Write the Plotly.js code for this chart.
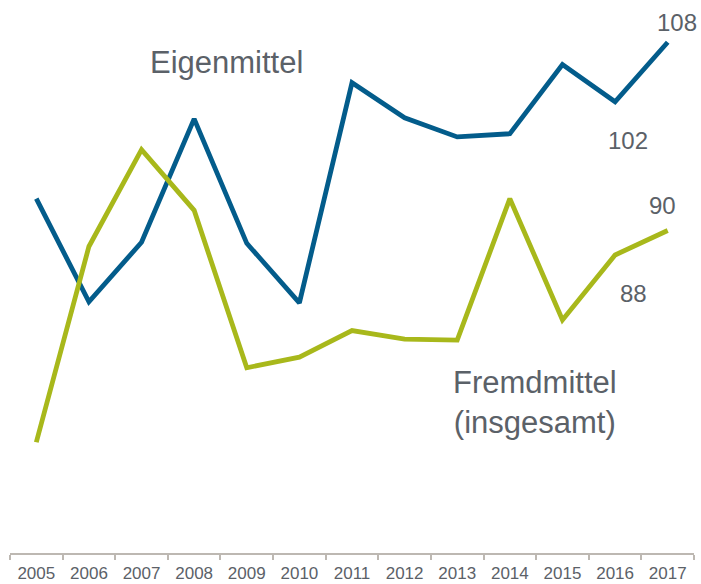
<!DOCTYPE html>
<html>
<head>
<meta charset="utf-8">
<script src="https://cdn.plot.ly/plotly-3.0.1.min.js"></script>
<style>html,body{margin:0;padding:0;background:#fff;}#chart{width:701px;height:584px;}</style>
</head>
<body>
<div id="chart"></div>
<script>
const years = ["2005","2006","2007","2008","2009","2010","2011","2012","2013","2014","2015","2016","2017"];
const eigenmittel = [93.1, 83.4, 89.0, 100.6, 88.9, 83.3, 104.0, 100.7, 98.9, 99.2, 105.7, 102.2, 107.8];
const fremdmittel = [70.2, 88.6, 97.7, 92.0, 77.2, 78.2, 80.7, 79.9, 79.8, 93.1, 81.7, 87.8, 90.1];
const eigenLabel = "Eigenmittel";
const fremdLabel = "Fremdmittel<br>(insgesamt)";

const textColor = "#5b6168";
const blue = "#035c8b";
const green = "#a8b81b";
const axisGrey = "#bdb8b2";
const font = "Liberation Sans, Arial, sans-serif";

const fmt = v => String(Math.round(v));
const n = years.length;

const traces = [
  {x: years, y: eigenmittel, type: "scatter", mode: "lines", name: "Eigenmittel",
   line: {color: blue, width: 4.8}, hoverinfo: "skip"},
  {x: years, y: fremdmittel, type: "scatter", mode: "lines", name: "Fremdmittel",
   line: {color: green, width: 4.8}, hoverinfo: "skip"}
];

const ann = (text, x, y, size) => ({text, x, y, xref: "paper", yref: "paper",
  xanchor: "center", yanchor: "middle", showarrow: false,
  font: {family: font, size, color: textColor}});

const layout = {
  width: 701, height: 584,
  margin: {l: 10, r: 7, t: 10, b: 31},
  paper_bgcolor: "#fff", plot_bgcolor: "#fff",
  showlegend: false,
  font: {family: font, color: textColor},
  xaxis: {type: "category", range: [-0.5, n - 0.5], tickson: "boundaries",
    ticks: "outside", ticklen: 5, tickwidth: 2, tickcolor: axisGrey,
    showline: true, linecolor: axisGrey, linewidth: 2, showgrid: false, zeroline: false,
    ticklabelstandoff: 4,
    tickfont: {family: font, size: 17, color: textColor}, fixedrange: true},
  yaxis: {visible: false, range: [59.79, 110.83], fixedrange: true},
  annotations: [
    ann(eigenLabel, 0.316, 0.903, 31),
    ann(fremdLabel, 0.768, 0.277, 31),
    ann(fmt(eigenmittel[n-1]), 0.975, 0.977, 24),
    ann(fmt(eigenmittel[n-2]), 0.904, 0.760, 24),
    ann(fmt(fremdmittel[n-1]), 0.954, 0.640, 24),
    ann(fmt(fremdmittel[n-2]), 0.912, 0.478, 24)
  ]
};

Plotly.newPlot("chart", traces, layout, {displayModeBar: false, staticPlot: true});
</script>
</body>
</html>
